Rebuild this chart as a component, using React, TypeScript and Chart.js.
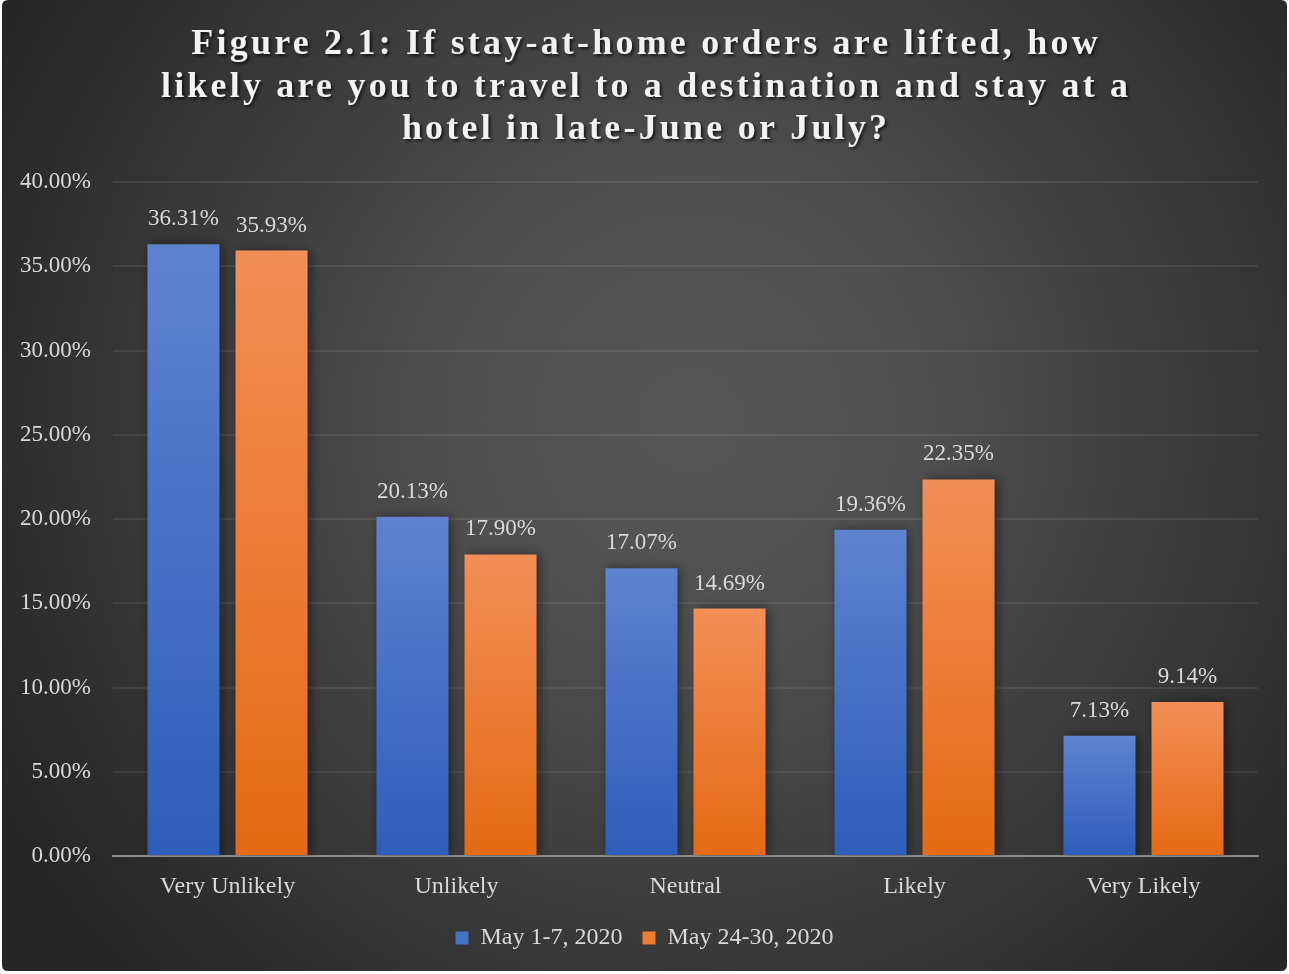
import React, { useEffect, useRef } from "react";
import { Chart, registerables } from "chart.js";

Chart.register(...registerables);

const categories = ["Very Unlikely", "Unlikely", "Neutral", "Likely", "Very Likely"];
const seriesNames = ["May 1-7, 2020", "May 24-30, 2020"];
const may1to7 = [36.31, 20.13, 17.07, 19.36, 7.13];
const may24to30 = [35.93, 17.9, 14.69, 22.35, 9.14];
const titleLines = [
  "Figure 2.1: If stay-at-home orders are lifted, how",
  "likely are you to travel to a destination and stay at a",
  "hotel in late-June or July?",
];
const yMin = 0;
const yMax = 40;
const yStep = 5;

const SERIF = '"Liberation Serif", "Times New Roman", serif';
const TEXT = "#d9d9d9";

const gradients: Record<string, [string, string]> = {
  blue: ["#5e83cf", "#2e5db9"],
  orange: ["#f38e57", "#e46a14"],
};

function barFill(key: string) {
  return (ctx: any) => {
    const chart = ctx.chart;
    const y = chart.scales?.y;
    if (!y || ctx.type !== "data") return gradients[key][1];
    const v = ctx.parsed?.y ?? ctx.raw;
    const top = y.getPixelForValue(v);
    const bottom = y.getPixelForValue(0);
    if (!isFinite(top) || !isFinite(bottom) || top === bottom) return gradients[key][1];
    const g = chart.ctx.createLinearGradient(0, top, 0, bottom);
    g.addColorStop(0, gradients[key][0]);
    g.addColorStop(1, gradients[key][1]);
    return g;
  };
}

const backgroundPlugin = {
  id: "bgPlugin",
  beforeDraw(chart: any) {
    const { ctx, width, height } = chart;
    ctx.save();
    ctx.fillStyle = "#ffffff";
    ctx.fillRect(0, 0, width, height);
    const g = ctx.createRadialGradient(690, 420, 0, 690, 420, 780);
    g.addColorStop(0, "#575757");
    g.addColorStop(0.3, "#4f4f4f");
    g.addColorStop(1, "#262626");
    ctx.fillStyle = g;
    ctx.beginPath();
    const x0 = 2, y0 = 0, w = width - 4, h = height - 3, r = 6;
    ctx.moveTo(x0 + r, y0);
    ctx.lineTo(x0 + w - r, y0);
    ctx.quadraticCurveTo(x0 + w, y0, x0 + w, y0 + r);
    ctx.lineTo(x0 + w, y0 + h - r);
    ctx.quadraticCurveTo(x0 + w, y0 + h, x0 + w - r, y0 + h);
    ctx.lineTo(x0 + r, y0 + h);
    ctx.quadraticCurveTo(x0, y0 + h, x0, y0 + h - r);
    ctx.lineTo(x0, y0 + r);
    ctx.quadraticCurveTo(x0, y0, x0 + r, y0);
    ctx.closePath();
    ctx.fill();
    ctx.restore();
  },
};

const titlePlugin = {
  id: "titlePlugin",
  afterDraw(chart: any) {
    const { ctx, width } = chart;
    ctx.save();
    ctx.font = `bold 36px ${SERIF}`;
    (ctx as any).letterSpacing = "3.2px";
    ctx.textAlign = "center";
    ctx.textBaseline = "middle";
    ctx.fillStyle = "#f2f2f2";
    ctx.shadowColor = "rgba(0,0,0,0.65)";
    ctx.shadowBlur = 3;
    ctx.shadowOffsetX = 2;
    ctx.shadowOffsetY = 2;
    const ys = [45, 88, 130];
    titleLines.forEach((line, i) => ctx.fillText(line, width / 2 + 1.6, ys[i]));
    ctx.restore();
  },
};

const shadowPlugin = {
  id: "shadowPlugin",
  beforeDatasetsDraw(chart: any) {
    const ctx = chart.ctx;
    ctx.save();
    ctx.shadowColor = "rgba(0,0,0,0.45)";
    ctx.shadowBlur = 10;
    ctx.shadowOffsetX = 3;
    ctx.shadowOffsetY = 0;
  },
  afterDatasetsDraw(chart: any) {
    chart.ctx.restore();
  },
};

const labelPlugin = {
  id: "labelPlugin",
  afterDatasetsDraw(chart: any) {
    const ctx = chart.ctx;
    ctx.save();
    ctx.font = `23px ${SERIF}`;
    ctx.fillStyle = TEXT;
    ctx.textAlign = "center";
    ctx.textBaseline = "middle";
    chart.data.datasets.forEach((ds: any, di: number) => {
      const meta = chart.getDatasetMeta(di);
      meta.data.forEach((el: any, i: number) => {
        const v = ds.data[i] as number;
        ctx.fillText(v.toFixed(2) + "%", el.x, el.y - 25);
      });
    });
    ctx.restore();
  },
};

export default function App() {
  const ref = useRef<HTMLCanvasElement | null>(null);
  useEffect(() => {
    if (!ref.current) return;
    const chart = new Chart(ref.current, {
      type: "bar",
      data: {
        labels: categories,
        datasets: [
          {
            label: seriesNames[0],
            data: may1to7,
            backgroundColor: barFill("blue"),
            borderWidth: 0,
            categoryPercentage: 0.769,
            barPercentage: 0.818,
          },
          {
            label: seriesNames[1],
            data: may24to30,
            backgroundColor: barFill("orange"),
            borderWidth: 0,
            categoryPercentage: 0.769,
            barPercentage: 0.818,
          },
        ],
      },
      options: {
        responsive: false,
        animation: false,
        layout: { padding: { top: 182, left: 0, right: 0, bottom: 14 } },
        scales: {
          x: {
            grid: { display: false, drawTicks: false },
            border: { display: true, color: "#8e8e8e", width: 2 },
            ticks: { color: TEXT, font: { family: SERIF, size: 24 }, padding: 16 },
            afterFit: (s: any) => {
              s.height = 50;
            },
          },
          y: {
            min: yMin,
            max: yMax,
            grid: { color: "rgba(255,255,255,0.075)", lineWidth: 2, drawTicks: false },
            border: { display: false },
            ticks: {
              stepSize: yStep,
              color: TEXT,
              font: { family: SERIF, size: 23 },
              padding: 22,
              callback: (v: any) => Number(v).toFixed(2) + "%",
            },
            afterFit: (s: any) => {
              s.width = 113;
            },
          },
          ySpacer: {
            type: "linear",
            position: "right",
            display: true,
            min: yMin,
            max: yMax,
            grid: { display: false, drawTicks: false },
            border: { display: false },
            ticks: { display: false },
            afterFit: (s: any) => {
              s.width = 31;
            },
          },
        },
        plugins: {
          title: { display: false },
          tooltip: { enabled: false },
          legend: {
            display: true,
            position: "bottom",
            labels: {
              color: TEXT,
              font: { family: SERIF, size: 24 },
              boxWidth: 13,
              boxHeight: 13,
              padding: 20,
              generateLabels: () => [
                {
                  text: seriesNames[0],
                  fillStyle: "#4472c4",
                  strokeStyle: "#4472c4",
                  lineWidth: 0,
                  fontColor: TEXT,
                  datasetIndex: 0,
                  hidden: false,
                },
                {
                  text: seriesNames[1],
                  fillStyle: "#ed7d31",
                  strokeStyle: "#ed7d31",
                  lineWidth: 0,
                  fontColor: TEXT,
                  datasetIndex: 1,
                  hidden: false,
                },
              ],
            },
          },
        },
      },
      plugins: [backgroundPlugin, shadowPlugin, labelPlugin, titlePlugin],
    });
    return () => chart.destroy();
  }, []);
  return (
    <div style={{ position: "fixed", left: 0, top: 0, width: 1289, height: 974, background: "#fff" }}>
      <canvas ref={ref} width={1289} height={974} style={{ width: 1289, height: 974, display: "block" }} />
    </div>
  );
}
